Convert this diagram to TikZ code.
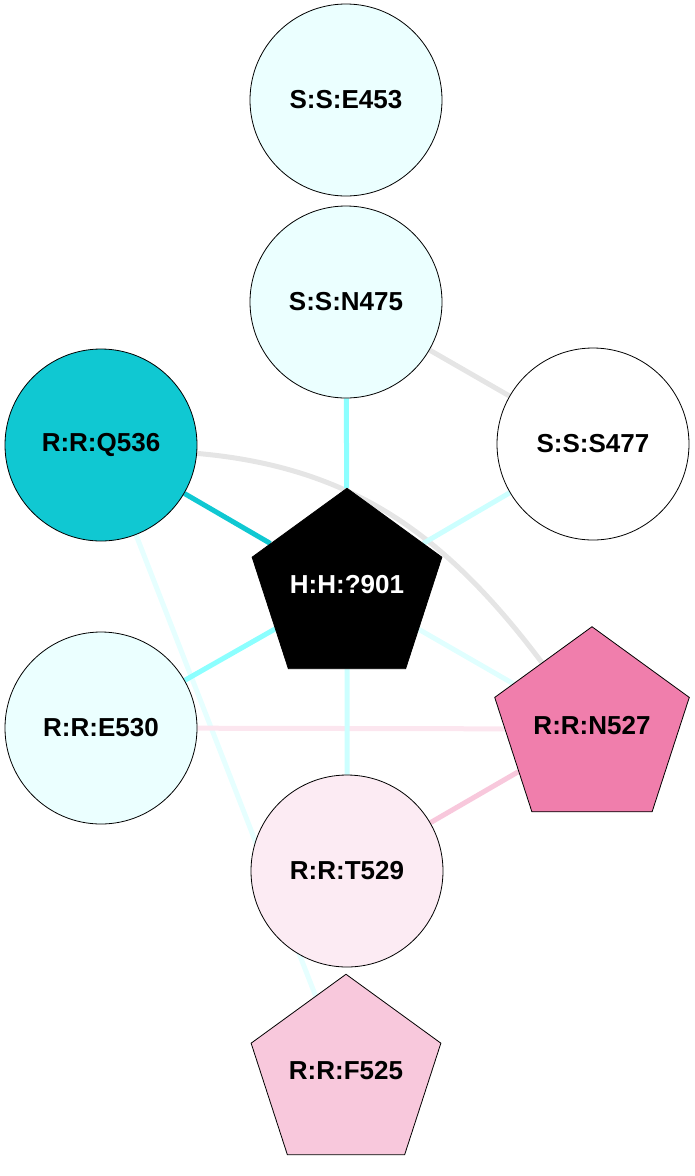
\documentclass[tikz,border=0pt]{standalone}
\usepackage{fontspec}
\setmainfont{Liberation Sans}
\usepackage{tikz}
\usetikzlibrary{shapes.geometric,backgrounds}
\definecolor{tealQ}{HTML}{10C8D2}
\definecolor{cyanA}{HTML}{8CFFFF}
\definecolor{cyanC}{HTML}{CCFFFF}
\definecolor{cyanD}{HTML}{E0FFFF}
\definecolor{cyanE}{HTML}{E6FFFF}
\definecolor{grayE}{HTML}{E5E5E5}
\definecolor{pinkE}{HTML}{FCE6EF}
\definecolor{pinkC}{HTML}{F8C8DC}
\definecolor{fillS}{HTML}{EBFFFF}
\definecolor{fillT}{HTML}{FCEBF3}
\definecolor{fillN}{HTML}{F07EAC}
\definecolor{fillF}{HTML}{F8C8DC}
\tikzset{x=1pt,y=1pt,
	every node/.style={
		font=\fontsize{26}{30}\selectfont\bfseries
	},
	res/.style={
		circle,
		draw,
		line width=0.8pt,
		minimum size=192pt,
		inner sep=0pt
	},
	lig/.style={
		regular polygon,
		regular polygon sides=5,
		draw,
		line width=0.8pt,
		minimum size=192pt,
		inner sep=0pt,
		text height=19pt,
		text depth=8pt
	},
	every edge/.style={
		draw,
		line width=5pt
	}
}

\begin{document}
\begin{tikzpicture}
		\useasboundingbox (0,0) rectangle (694,-1176);
		\node[res, fill=fillS] (e453) at (346,-100) {S:S:E453};
		\node[res, fill=fillS] (n475) at (346,-302) {S:S:N475};
		\node[res, fill=white] (s477) at (593,-444) {S:S:S477};
		\node[res, fill=tealQ] (q536) at (101,-445) {R:R:Q536};
		\node[lig, fill=black, text=white] (h901) at (347,-588) {H:H:?901};
		\node[res, fill=fillS] (e530) at (101,-728) {R:R:E530};
		\node[lig, fill=fillN] (n527) at (592,-729) {R:R:N527};
		\node[res, fill=fillT] (t529) at (347,-871) {R:R:T529};
		\node[lig, fill=fillF] (f525) at (346,-1074) {R:R:F525};
		\begin{scope}[on background layer]
			\draw (q536) edge[cyanE] (f525);
			\draw (q536) edge[grayE, out=-5, in=127] (n527);
			\draw (n475) edge[grayE] (s477);
			\draw (n475) edge[cyanA] (h901);
			\draw (q536) edge[tealQ] (h901);
			\draw (s477) edge[cyanC] (h901);
			\draw (e530) edge[cyanA] (h901);
			\draw (e530) edge[pinkE] (n527);
			\draw (h901) edge[cyanD] (n527);
			\draw (h901) edge[cyanC] (t529);
			\draw (t529) edge[pinkC] (n527);
		\end{scope}
	\end{tikzpicture}
\end{document}
